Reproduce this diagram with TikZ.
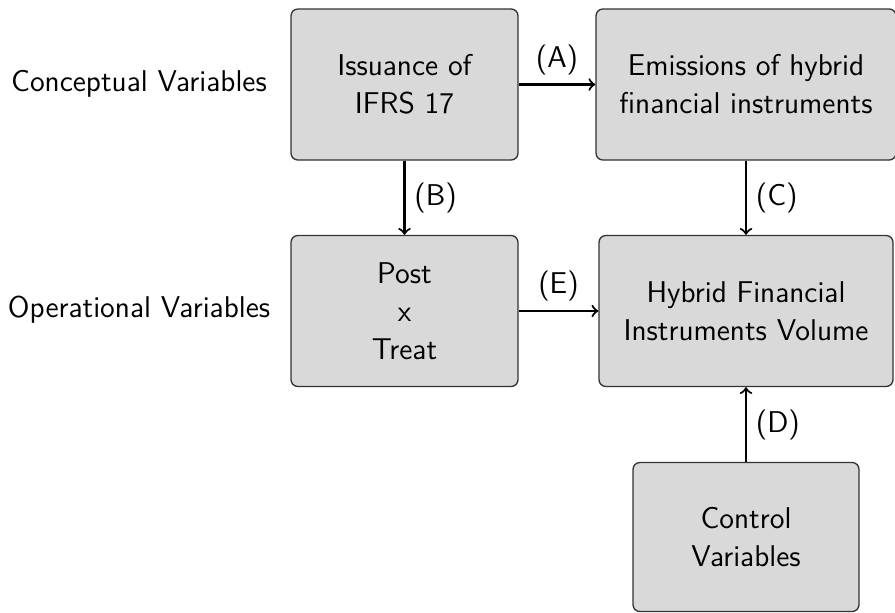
\documentclass[tikz,border=0pt]{standalone}
\usepackage{amsmath}
\usepackage{tikz}

\begin{document}
\begin{tikzpicture}[x=0.01333cm,y=-0.01333cm,font=\sffamily\fontsize{11.4}{14.4}\selectfont,
    box/.style={shape=rectangle,rounded corners=2.6pt,draw=black!80,fill=black!15,align=center,line width=0.5pt}]
        \useasboundingbox (0,0) rectangle (895,612);

        \node (concept) at (139, 84)  {Conceptual Variables};
        \node (operat)  at (139, 310) {Operational Variables};

        \node[box,minimum width=227*0.01333cm,minimum height=151*0.01333cm] (iss)  at (404.5, 84.5) {Issuance of\\IFRS 17};
        \node[box,minimum width=300*0.01333cm,minimum height=151*0.01333cm] (emi)  at (746, 84.5)   {Emissions of hybrid\\financial instruments};
        \node[box,minimum width=227*0.01333cm,minimum height=151*0.01333cm] (post) at (404.5, 311)  {Post\\x\\Treat};
        \node[box,minimum width=294*0.01333cm,minimum height=151*0.01333cm] (hyb)  at (746, 311)    {Hybrid Financial\\Instruments Volume};
        \node[box,minimum width=226*0.01333cm,minimum height=149*0.01333cm] (ctrl) at (746, 537)    {Control\\Variables};

	\path[->,thick] (iss) edge node[above]{(A)} (emi);
	\path[->,thick] (iss) edge node[right]{(B)} (post);
	\path[->,thick] (emi) edge node[right]{(C)} (hyb);
	\path[->,thick] (ctrl) edge node[right]{(D)} (hyb);
	\path[->,thick] (post) edge node[above]{(E)} (hyb);
	\end{tikzpicture}
\end{document}
